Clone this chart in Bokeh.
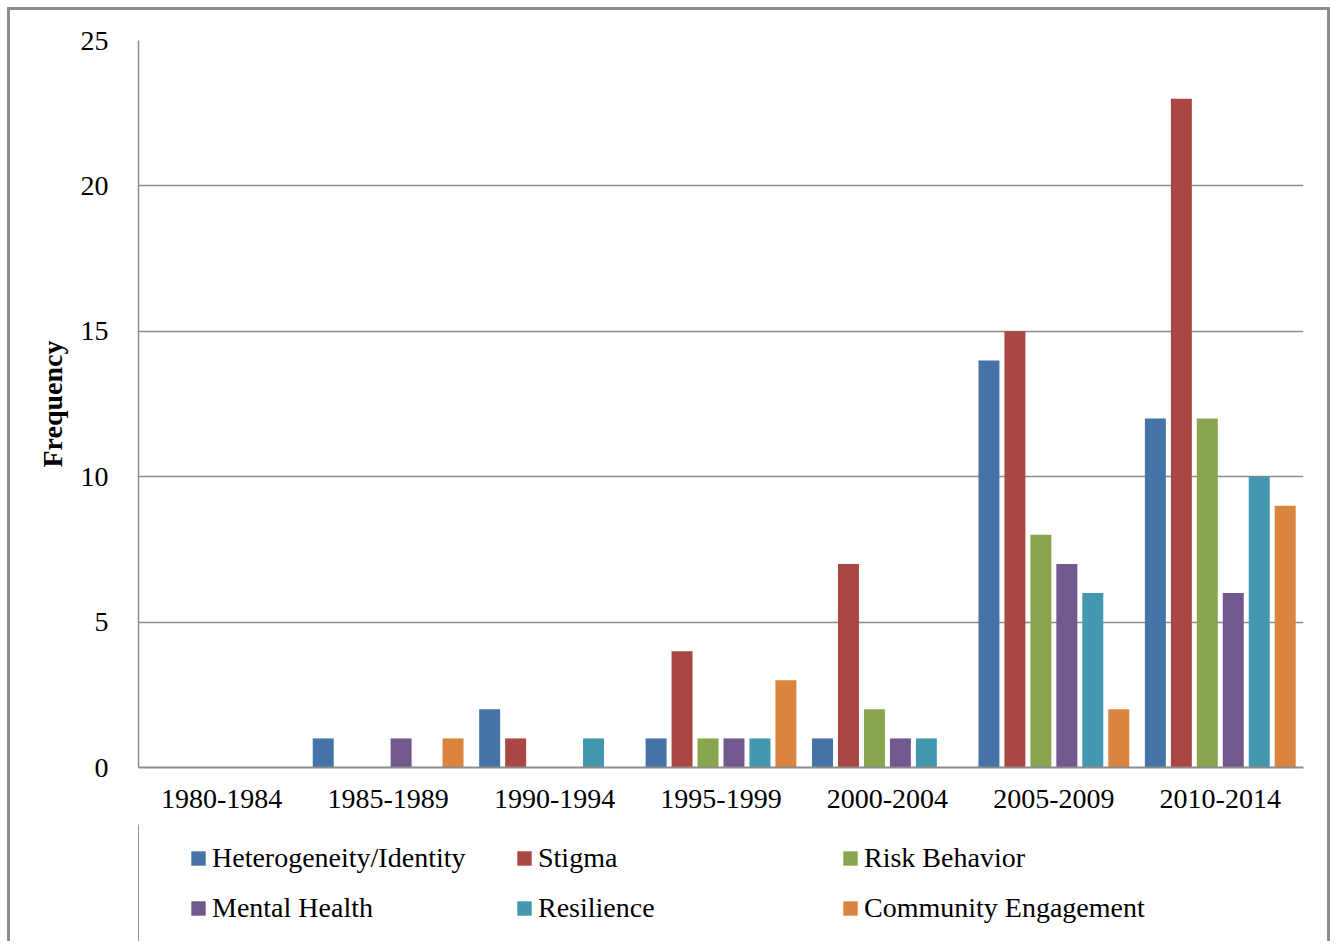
from bokeh.plotting import figure
from bokeh.layouts import column
from bokeh.models import FactorRange, Range1d, FixedTicker, Legend, LegendItem, ColumnDataSource, Grid
from bokeh.transform import dodge
from bokeh.embed import file_html
from bokeh.resources import INLINE

periods = ["1980-1984", "1985-1989", "1990-1994", "1995-1999", "2000-2004", "2005-2009", "2010-2014"]
series_names = ["Heterogeneity/Identity", "Stigma", "Risk Behavior", "Mental Health", "Resilience", "Community Engagement"]
heterogeneity = [0, 1, 2, 1, 1, 14, 12]
stigma = [0, 0, 1, 4, 7, 15, 23]
risk_behavior = [0, 0, 0, 1, 2, 8, 12]
mental_health = [0, 1, 0, 1, 1, 7, 6]
resilience = [0, 0, 1, 1, 1, 6, 10]
community = [0, 1, 0, 3, 0, 2, 9]
colors = ["#4572A7", "#AA4643", "#89A54E", "#71588F", "#4198AF", "#DB843D"]
y_ticks = [0, 5, 10, 15, 20, 25]

series_values = [heterogeneity, stigma, risk_behavior, mental_health, resilience, community]
keys = ["s%d" % i for i in range(len(series_values))]
data = {"period": periods}
for k, v in zip(keys, series_values):
    data[k] = v
source = ColumnDataSource(data)

FONT = "Liberation Serif"
BORDER = "3px solid #8c8c8c"

# ---- main chart ----
p = figure(
    x_range=FactorRange(*periods, range_padding=0),
    y_range=Range1d(0, 25),
    width=1323, height=817,
    output_backend="svg", toolbar_location=None,
    min_border_left=128, min_border_right=30, min_border_top=30, min_border_bottom=60,
)
p.margin = (7, 6, 0, 7)
p.styles = {"border-top": BORDER, "border-left": BORDER, "border-right": BORDER}
p.outline_line_color = None
p.background_fill_color = "white"
p.border_fill_color = "white"

step = 0.156
bar_w = 0.126
for i, (k, c) in enumerate(zip(keys, colors)):
    p.vbar(x=dodge("period", (i - 2.5) * step, range=p.x_range), top=k, width=bar_w,
           source=source, fill_color=c, line_color=None)

p.xgrid.grid_line_color = None
p.ygrid.grid_line_color = "#8c8c8c"
p.ygrid.grid_line_width = 1.5

p.yaxis.ticker = FixedTicker(ticks=y_ticks)
p.yaxis.axis_label = "Frequency"
p.yaxis.axis_label_text_font = FONT
p.yaxis.axis_label_text_font_style = "bold"
p.yaxis.axis_label_text_font_size = "28px"
p.yaxis.axis_label_text_color = "black"
p.yaxis.axis_label_standoff = 10
p.yaxis.major_label_text_font = FONT
p.yaxis.major_label_text_font_size = "28px"
p.yaxis.major_label_text_color = "black"
p.yaxis.major_label_standoff = 24
p.yaxis.axis_line_color = "#8c8c8c"
p.yaxis.axis_line_width = 1.5
p.yaxis.major_tick_line_color = None
p.yaxis.minor_tick_line_color = None

p.xaxis.major_label_text_font = FONT
p.xaxis.major_label_text_font_size = "28px"
p.xaxis.major_label_text_color = "black"
p.xaxis.major_label_standoff = 16
p.xaxis.axis_line_color = "#8c8c8c"
p.xaxis.axis_line_width = 2
p.xaxis.major_tick_line_color = None
p.xaxis.minor_tick_line_color = None

# ---- legend strip ----
lg = figure(
    width=1323, height=117,
    x_range=Range1d(0, 1), y_range=Range1d(0, 1),
    x_axis_location=None, y_axis_location=None,
    output_backend="svg", toolbar_location=None,
    min_border_left=128, min_border_right=30, min_border_top=0, min_border_bottom=0,
)
lg.margin = (0, 6, 0, 7)
lg.styles = {"border-left": BORDER, "border-right": BORDER}
lg.outline_line_color = None
lg.background_fill_color = "white"
lg.border_fill_color = "white"
for g in lg.select(type=Grid):
    g.grid_line_color = None
    g.visible = False

items = []
for name, c in zip(series_names, colors):
    # swatch-only renderer, kept outside the visible range
    r = lg.vbar(x=[-5], top=[1], width=0.1, fill_color=c, line_color=None)
    items.append(LegendItem(label=name, renderers=[r]))

legend = Legend(
    items=items, orientation="horizontal", ncols=3, location=(51, 8),
    glyph_width=18, glyph_height=18, label_standoff=5,
    label_width=303, label_height=50, spacing=0, padding=0, margin=0,
    label_text_font=FONT, label_text_font_size="28px", label_text_color="black",
    border_line_color=None, background_fill_alpha=0,
)
lg.add_layout(legend, "center")

layout = column(p, lg, spacing=0)
open("out.html", "w").write(file_html(layout, INLINE))
